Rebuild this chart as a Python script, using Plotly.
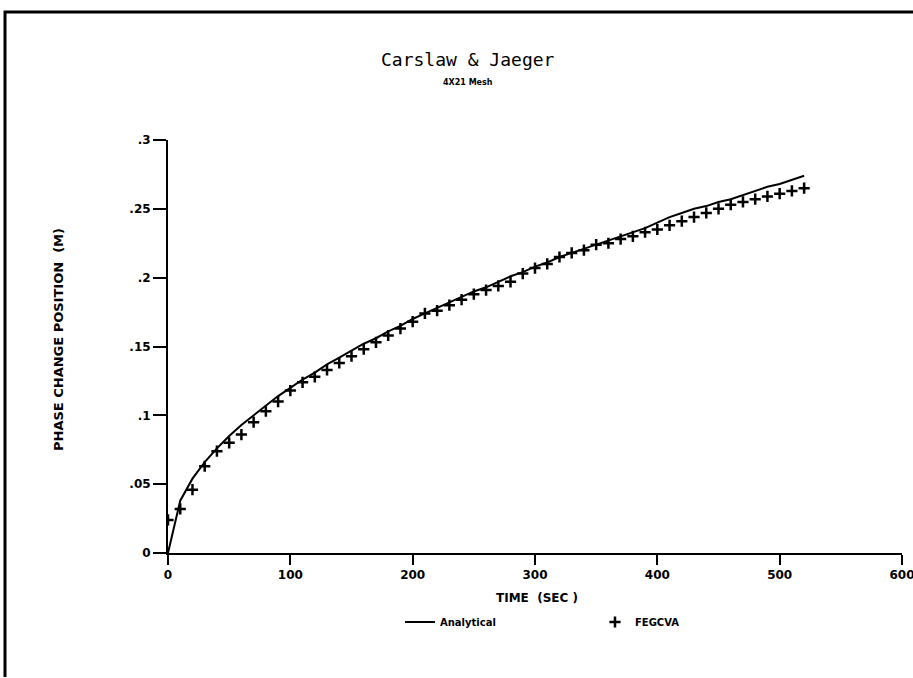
import plotly.graph_objects as go

# Time values (s)
time_s = [0, 10, 20, 30, 40, 50, 60, 70, 80, 90, 100, 110, 120, 130, 140, 150, 160, 170, 180, 190,
          200, 210, 220, 230, 240, 250, 260, 270, 280, 290, 300, 310, 320, 330, 340, 350, 360, 370,
          380, 390, 400, 410, 420, 430, 440, 450, 460, 470, 480, 490, 500, 510, 520]

analytical = [0.000, 0.038, 0.054, 0.066, 0.076, 0.085, 0.093, 0.100, 0.107, 0.114, 0.120, 0.126,
              0.131, 0.137, 0.142, 0.147, 0.152, 0.156, 0.161, 0.165, 0.170, 0.174, 0.178, 0.182,
              0.186, 0.190, 0.193, 0.197, 0.201, 0.204, 0.208, 0.211, 0.215, 0.218, 0.221, 0.224,
              0.227, 0.230, 0.233, 0.236, 0.240, 0.244, 0.247, 0.250, 0.252, 0.255, 0.257, 0.260,
              0.263, 0.266, 0.268, 0.271, 0.274]

fegcva = [0.024, 0.032, 0.046, 0.063, 0.074, 0.080, 0.086, 0.095, 0.103, 0.110, 0.118, 0.124,
          0.128, 0.133, 0.138, 0.143, 0.148, 0.153, 0.158, 0.163, 0.168, 0.174, 0.176, 0.180,
          0.184, 0.188, 0.191, 0.194, 0.197, 0.203, 0.207, 0.210, 0.215, 0.218, 0.220, 0.224,
          0.225, 0.228, 0.230, 0.233, 0.235, 0.238, 0.241, 0.244, 0.247, 0.250, 0.253, 0.255,
          0.257, 0.259, 0.261, 0.263, 0.265]

x_ticks = [0, 100, 200, 300, 400, 500, 600]
x_tick_labels = ["0", "100", "200", "300", "400", "500", "600"]
y_ticks = [0, 0.05, 0.1, 0.15, 0.2, 0.25, 0.3]
y_tick_labels = ["0", ".05", ".1", ".15", ".2", ".25", ".3"]

FONT = "DejaVu Sans"

fig = go.Figure()
fig.add_trace(go.Scatter(x=time_s, y=analytical, mode="lines", name="Analytical",
                         line=dict(color="black", width=2)))
fig.add_trace(go.Scatter(x=time_s, y=fegcva, mode="markers", name="FEGCVA",
                         marker=dict(symbol="cross-thin", size=8, color="black",
                                     line=dict(color="black", width=2.5))))

W, H = 913, 678
L, R, T, B = 168, 11, 140, 125
pw, ph = W - L - R, H - T - B

def px(xp):
    return (xp - L) / pw

def py(yp):
    return (H - B - yp) / ph

fig.update_layout(
    width=W, height=H,
    margin=dict(l=L, r=R, t=T, b=B, autoexpand=False),
    paper_bgcolor="white", plot_bgcolor="white",
    font=dict(family=FONT, color="black"),
    showlegend=True,
    legend=dict(orientation="h", x=px(400), y=py(622), xanchor="left", yanchor="middle",
                font=dict(size=10, family=FONT, weight="bold"), bgcolor="rgba(0,0,0,0)",
                itemwidth=30, entrywidth=150, tracegroupgap=0),
    xaxis=dict(range=[0, 600], tickvals=x_ticks, ticktext=x_tick_labels,
               showgrid=False, zeroline=False, showline=True, linecolor="black", linewidth=2,
               ticks="outside", ticklen=10, tickwidth=2, tickcolor="black",
               ticklabeloverflow="allow", automargin=False,
               tickfont=dict(size=12, family=FONT, weight="bold")),
    yaxis=dict(range=[0, 0.3], tickvals=y_ticks, ticktext=y_tick_labels,
               showgrid=False, zeroline=False, showline=True, linecolor="black", linewidth=2,
               ticks="outside", ticklen=13, tickwidth=2, tickcolor="black", automargin=False,
               tickfont=dict(size=12, family=FONT, weight="bold")),
    annotations=[
        dict(text="Carslaw & Jaeger", xref="paper", yref="paper", x=px(468), y=py(60),
             xanchor="center", yanchor="middle", showarrow=False,
             font=dict(size=18, family="DejaVu Sans Mono")),
        dict(text="4X21 Mesh", xref="paper", yref="paper", x=px(468), y=py(83),
             xanchor="center", yanchor="middle", showarrow=False,
             font=dict(size=8, family=FONT, weight="bold")),
        dict(text="TIME  (SEC )", xref="paper", yref="paper", x=px(537), y=py(598),
             xanchor="center", yanchor="middle", showarrow=False,
             font=dict(size=12, family=FONT, weight="bold")),
        dict(text="PHASE CHANGE POSITION  (M)", xref="paper", yref="paper", x=px(58), y=py(340),
             xanchor="center", yanchor="middle", showarrow=False, textangle=-90,
             font=dict(size=13, family=FONT, weight="bold")),
    ],
    shapes=[
        dict(type="path", xref="paper", yref="paper",
             path=f"M {px(5)},{py(677)} L {px(5)},{py(12)} L {px(913)},{py(12)}",
             line=dict(color="black", width=3)),
    ],
)

fig.write_html("out.html")
